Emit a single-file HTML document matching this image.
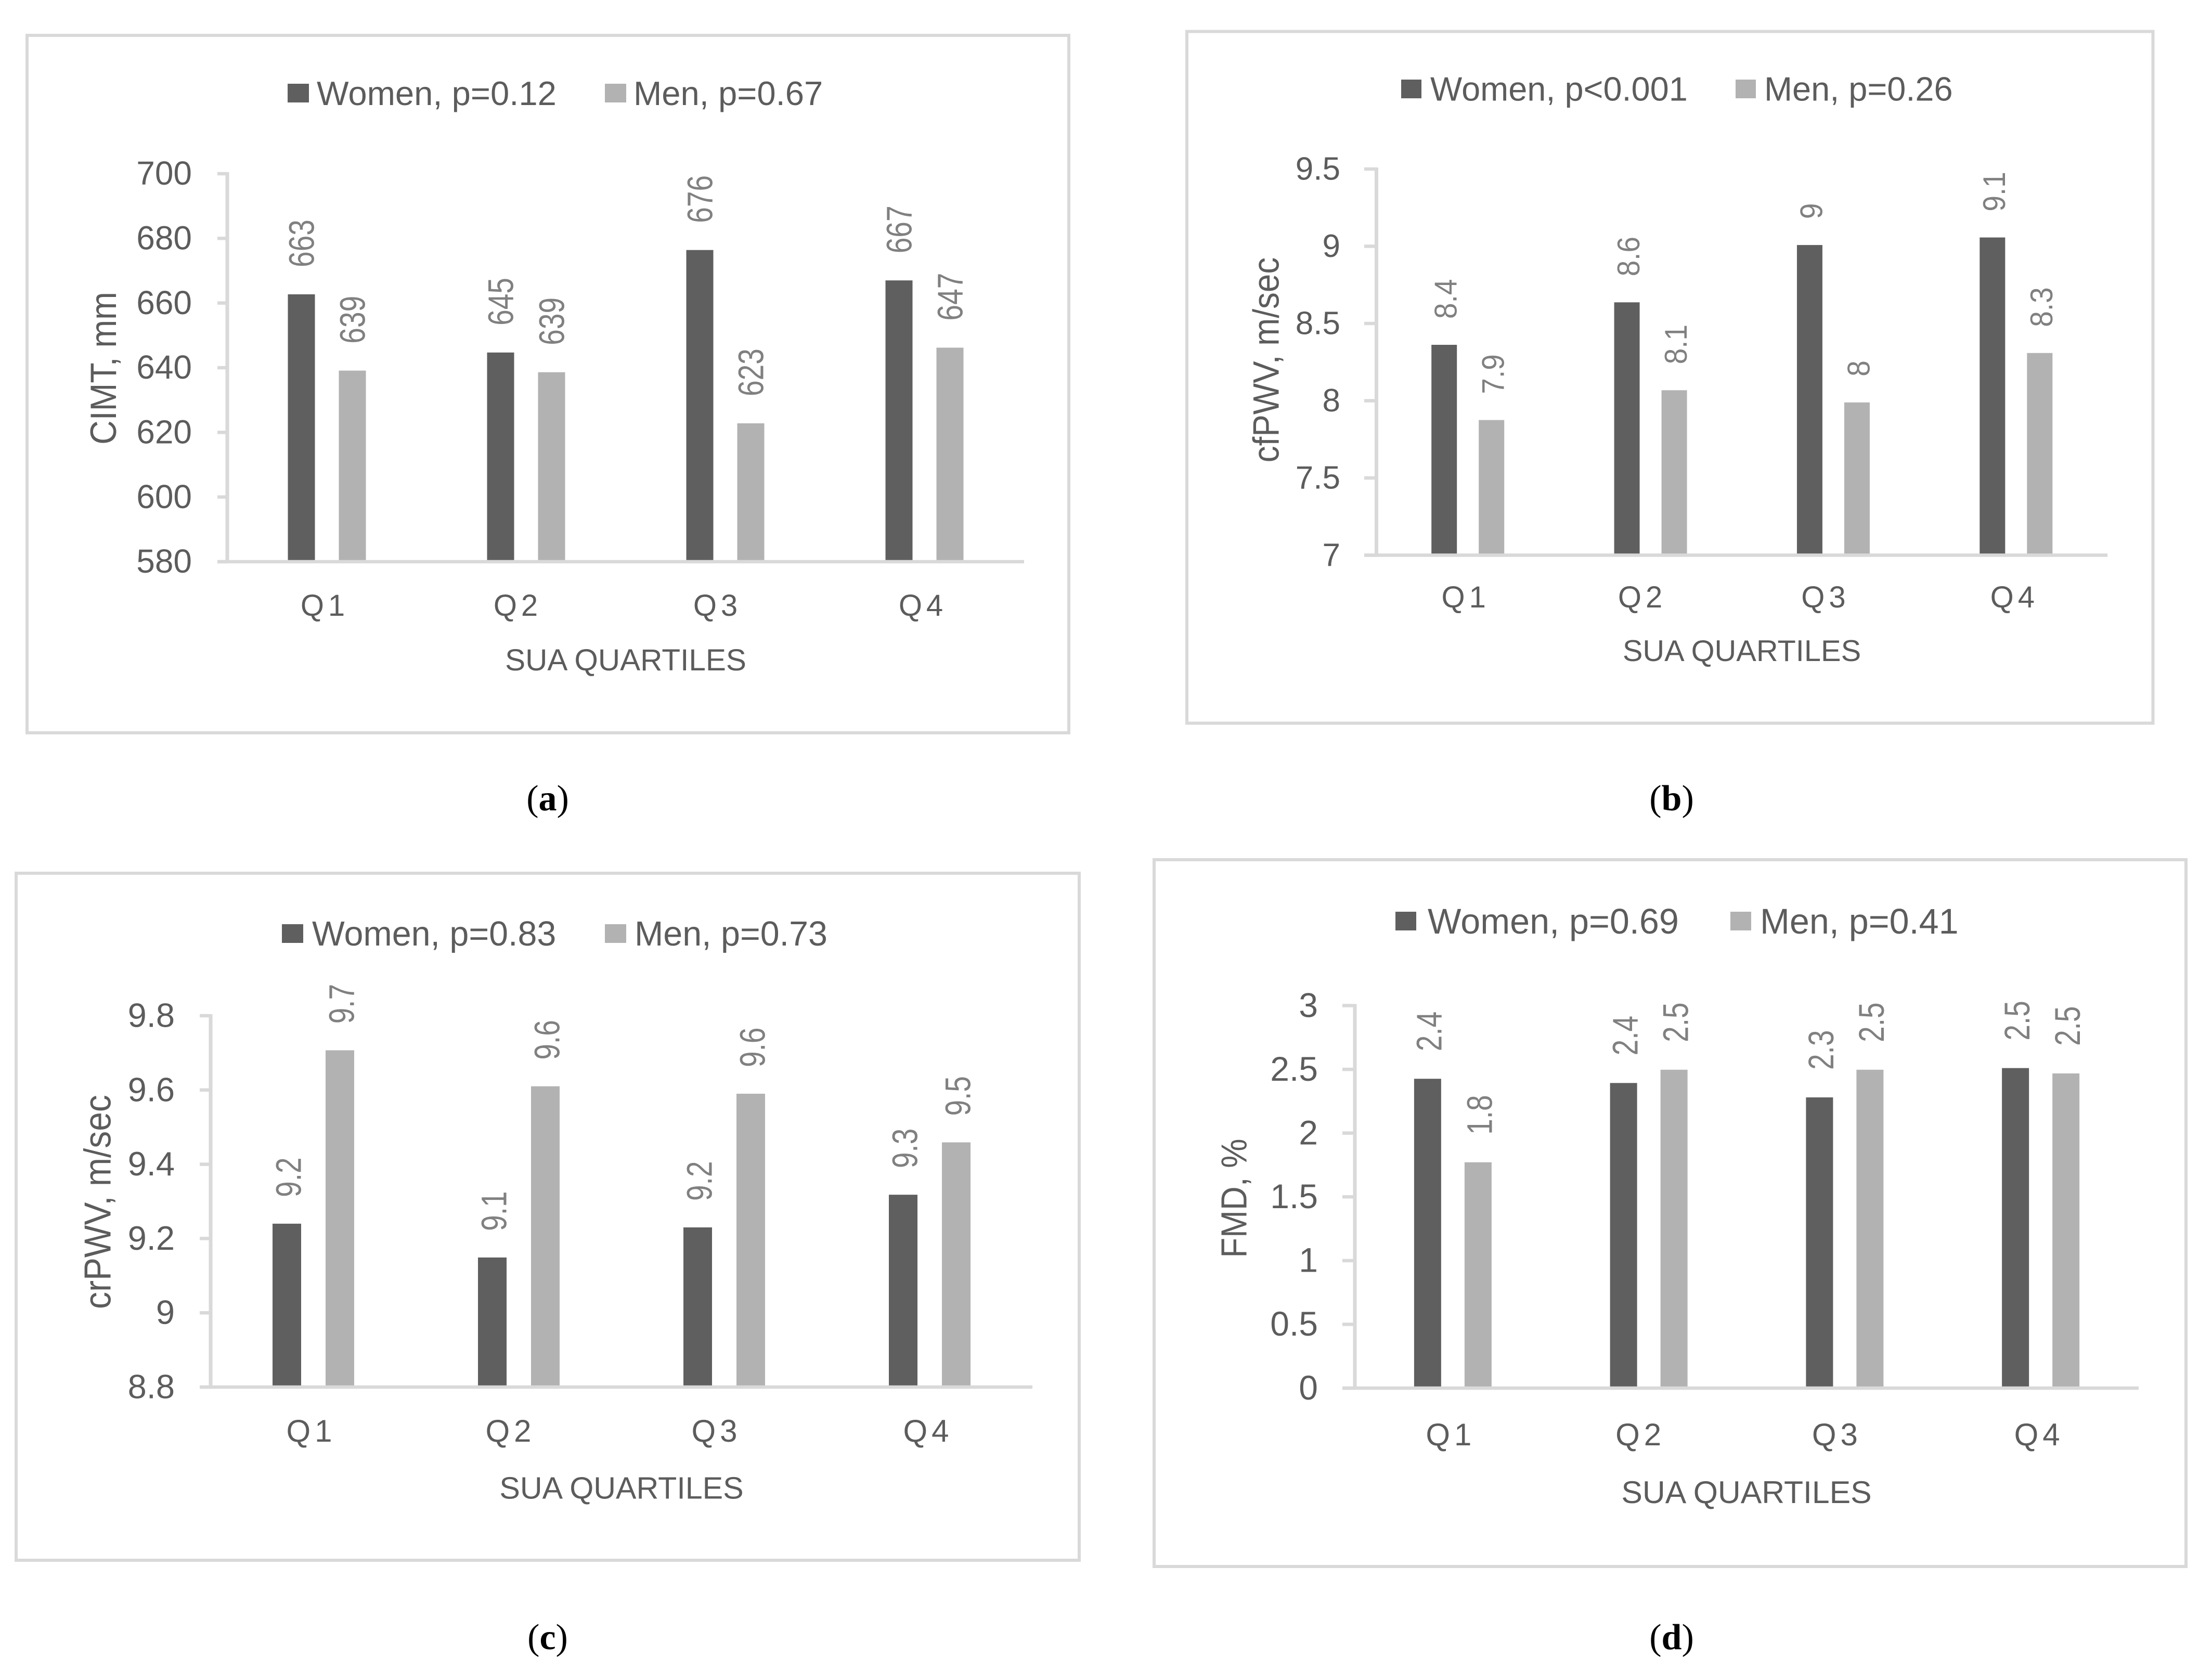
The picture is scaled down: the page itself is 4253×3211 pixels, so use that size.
<!DOCTYPE html>
<html lang="en">
<head>
<meta charset="utf-8">
<title>Women and men by SUA quartiles</title>
<style>
html,body{margin:0;padding:0;background:#fff;width:4253px;height:3211px;overflow:hidden}
svg{display:block}
text{font-family:"Liberation Sans",sans-serif}
.cap{font-family:"Liberation Serif",serif;fill:#000}
</style>
</head>
<body>
<svg id="figure" xmlns="http://www.w3.org/2000/svg" width="4253" height="3211" viewBox="0 0 4253 3211"></svg>
<script>
// ---- data ----
const categories = ['Q1', 'Q2', 'Q3', 'Q4'];
const xAxisTitle = 'SUA QUARTILES';

const cimtWomen = [662.7, 644.7, 676.4, 667.0];
const cimtMen = [639.1, 638.6, 622.8, 646.2];
const cimtWomenLabels = ['663', '645', '676', '667'];
const cimtMenLabels = ['639', '639', '623', '647'];
const cimtTicks = [580, 600, 620, 640, 660, 680, 700];

const cfpwvWomen = [8.362, 8.637, 9.008, 9.057];
const cfpwvMen = [7.875, 8.068, 7.989, 8.309];
const cfpwvWomenLabels = ['8.4', '8.6', '9', '9.1'];
const cfpwvMenLabels = ['7.9', '8.1', '8', '8.3'];
const cfpwvTicks = [7, 7.5, 8, 8.5, 9, 9.5];

const crpwvWomen = [9.24, 9.149, 9.23, 9.318];
const crpwvMen = [9.707, 9.61, 9.59, 9.459];
const crpwvWomenLabels = ['9.2', '9.1', '9.2', '9.3'];
const crpwvMenLabels = ['9.7', '9.6', '9.6', '9.5'];
const crpwvTicks = [8.8, 9, 9.2, 9.4, 9.6, 9.8];

const fmdWomen = [2.426, 2.393, 2.28, 2.51];
const fmdMen = [1.771, 2.497, 2.497, 2.468];
const fmdWomenLabels = ['2.4', '2.4', '2.3', '2.5'];
const fmdMenLabels = ['1.8', '2.5', '2.5', '2.5'];
const fmdTicks = [0, 0.5, 1, 1.5, 2, 2.5, 3];

// ---- layout and styling ----
const DARK = '#5f5f5f', LIGHT = '#b2b2b2', RULE = '#d9d9d9', TEXT = '#5c5c5c', VALUE = '#808080';
const qNudge = [-4, -16, -15, -3];
const NS = 'http://www.w3.org/2000/svg';
const root = document.getElementById('figure');

function mk(parent, tag, attrs, content) {
  const el = document.createElementNS(NS, tag);
  for (const k in attrs) el.setAttribute(k, attrs[k]);
  if (content !== undefined) el.textContent = content;
  parent.appendChild(el);
  return el;
}

const panels = [
  { key: 'a', caption: 'a', capX: 1053, capY: 1536,
    frame: [52, 68, 2055, 1409],
    plotL: 437, plotR: 1969, plotT: 334, plotB: 1080, tickL: 418, tickR: 369, tickFs: 64,
    ticks: cimtTicks, women: cimtWomen, men: cimtMen, womenLabels: cimtWomenLabels, menLabels: cimtMenLabels,
    barW: 52, barOff: 49, gap: 52, dlDx: 0, dlSy: 1.24,
    title: 'CIMT, mm', titleX: 198, titleY: 708, titleFs: 64.5,
    legendY: 179, legendFs: 65.2, womenText: 'Women, p=0.12', menText: 'Men, p=0.67',
    sw1: 553, tx1: 609, sw2: 1163, tx2: 1218, swW: 41,
    qBase: 1184, qFs: 58, subX: 1203, subY: 1268, subFs: 58.5 },
  { key: 'b', caption: 'b', capX: 3214, capY: 1536,
    frame: [2282, 60.5, 4139.5, 1390.5],
    plotL: 2646.5, plotR: 4052, plotT: 325, plotB: 1067.5, tickL: 2623, tickR: 2577, tickFs: 62,
    ticks: cfpwvTicks, women: cfpwvWomen, men: cfpwvMen, womenLabels: cfpwvWomenLabels, menLabels: cfpwvMenLabels,
    barW: 49, barOff: 45.5, gap: 50, dlDx: 3, dlSy: 1.09,
    title: 'cfPWV, m/sec', titleX: 2434, titleY: 692, titleFs: 63.8,
    legendY: 171, legendFs: 64.9, womenText: 'Women, p<0.001', menText: 'Men, p=0.26',
    sw1: 2694, tx1: 2750, sw2: 3337, tx2: 3392, swW: 39,
    qBase: 1168, qFs: 58, subX: 3349, subY: 1250, subFs: 57.8 },
  { key: 'c', caption: 'c', capX: 1053, capY: 3149,
    frame: [31, 1679, 2075, 3000],
    plotL: 405, plotR: 1985, plotT: 1953, plotB: 2667, tickL: 384, tickR: 336, tickFs: 65,
    ticks: crpwvTicks, women: crpwvWomen, men: crpwvMen, womenLabels: crpwvWomenLabels, menLabels: crpwvMenLabels,
    barW: 55, barOff: 51, gap: 51, dlDx: 3, dlSy: 1.24,
    title: 'crPWV, m/sec', titleX: 187, titleY: 2311, titleFs: 66,
    legendY: 1795, legendFs: 66.4, womenText: 'Women, p=0.83', menText: 'Men, p=0.73',
    sw1: 542, tx1: 600, sw2: 1163, tx2: 1220, swW: 41,
    qBase: 2772, qFs: 60, subX: 1195, subY: 2860, subFs: 59.2 },
  { key: 'd', caption: 'd', capX: 3214, capY: 3149,
    frame: [2219, 1653, 4203, 3012],
    plotL: 2605, plotR: 4112, plotT: 1933.5, plotB: 2669, tickL: 2581, tickR: 2534, tickFs: 66,
    ticks: fmdTicks, women: fmdWomen, men: fmdMen, womenLabels: fmdWomenLabels, menLabels: fmdMenLabels,
    barW: 52, barOff: 48.5, gap: 53, dlDx: 3, dlSy: 1.24,
    title: 'FMD, %', titleX: 2372, titleY: 2304, titleFs: 63.5,
    legendY: 1771, legendFs: 68.3, womenText: 'Women, p=0.69', menText: 'Men, p=0.41',
    sw1: 2683, tx1: 2745, sw2: 3327, tx2: 3384, swW: 40,
    qBase: 2779, qFs: 60, subX: 3358, subY: 2868, subFs: 60.7 }
];

function drawPanel(p) {
  const g = mk(root, 'g', {});
  
  

  const [fl, ft, fr, fb] = p.frame;
  const frame = mk(g, 'rect', { x: fl, y: ft, width: fr - fl, height: fb - ft, fill: '#fff', stroke: RULE, 'stroke-width': 6 });
  
  

  // axis functions
  const yMin = p.ticks[0], yMax = p.ticks[p.ticks.length - 1];
  const yScale = v => p.plotB - (v - yMin) / (yMax - yMin) * (p.plotB - p.plotT);
  const band = (p.plotR - p.plotL) / categories.length;
  const xScale = i => p.plotL + (i + 0.5) * band;

  // legend
  const swH = 36;
  const sw1 = mk(g, 'rect', { x: p.sw1, y: p.legendY - swH / 2, width: p.swW, height: swH, fill: DARK });
  
  
  const lt1 = mk(g, 'text', { x: p.tx1, y: p.legendY + p.legendFs * 0.35, 'font-size': p.legendFs, fill: TEXT }, p.womenText);
  
  
  const sw2 = mk(g, 'rect', { x: p.sw2, y: p.legendY - swH / 2, width: p.swW, height: swH, fill: LIGHT });
  
  
  const lt2 = mk(g, 'text', { x: p.tx2, y: p.legendY + p.legendFs * 0.35, 'font-size': p.legendFs, fill: TEXT }, p.menText);
  
  

  // bars and value labels
  function series(values, labels, off, color, name) {
    values.forEach((v, i) => {
      const cx = xScale(i) + off;
      const top = yScale(v);
      const bar = mk(g, 'rect', { x: cx - p.barW / 2, y: top, width: p.barW, height: p.plotB - top, fill: color });
      
      
      const lx = cx + p.dlDx, ly = top - p.gap;
      const lab = mk(g, 'text', {
        transform: 'translate(' + lx + ' ' + ly + ') rotate(-90) scale(1 ' + p.dlSy + ')',
        x: 0, y: 0, dy: '0.35em', 'font-size': 55, fill: VALUE, 'text-anchor': 'start'
      }, labels[i]);
      
      
    });
  }
  series(p.women, p.womenLabels, -p.barOff, DARK, 'women');
  series(p.men, p.menLabels, p.barOff, LIGHT, 'men');

  // y axis with ticks
  const yAxis = mk(g, 'line', { x1: p.plotL, x2: p.plotL, y1: p.plotT - 3, y2: p.plotB, stroke: RULE, 'stroke-width': 7 });
  
  
  p.ticks.forEach(t => {
    const y = yScale(t);
    const tick = mk(g, 'line', { x1: p.tickL, x2: p.plotL, y1: y, y2: y, stroke: RULE, 'stroke-width': 6.5 });
    
    
    const tl = mk(g, 'text', { x: p.tickR, y: y + p.tickFs * 0.33, 'font-size': p.tickFs, fill: TEXT, 'text-anchor': 'end' }, String(t));
    
    
  });
  const yt = mk(g, 'text', {
    transform: 'translate(' + p.titleX + ' ' + p.titleY + ') rotate(-90) scale(1 1.1)',
    x: 0, y: 0, dy: '0.35em', 'font-size': p.titleFs, fill: TEXT, 'text-anchor': 'middle'
  }, p.title);
  
  

  // x axis with category labels
  const xAxis = mk(g, 'line', { x1: p.tickL, x2: p.plotR, y1: p.plotB, y2: p.plotB, stroke: RULE, 'stroke-width': 6.5 });
  
  
  categories.forEach((c, i) => {
    const q = mk(g, 'text', { x: xScale(i) + qNudge[i], y: p.qBase, 'font-size': p.qFs, fill: TEXT, 'text-anchor': 'middle', 'letter-spacing': 8 }, c);
    
    
  });
  const xt = mk(g, 'text', { x: p.subX, y: p.subY + p.subFs * 0.36, 'font-size': p.subFs, fill: TEXT, 'text-anchor': 'middle' }, xAxisTitle);
  
  

  // caption
  const cap = mk(g, 'text', { class: 'cap', x: p.capX, y: p.capY + 22, 'font-size': 70, 'text-anchor': 'middle' });
  
  
  mk(cap, 'tspan', {}, '(');
  mk(cap, 'tspan', { 'font-weight': 'bold' }, p.caption);
  mk(cap, 'tspan', {}, ')');
}

panels.forEach(drawPanel);
</script>
</body>
</html>
